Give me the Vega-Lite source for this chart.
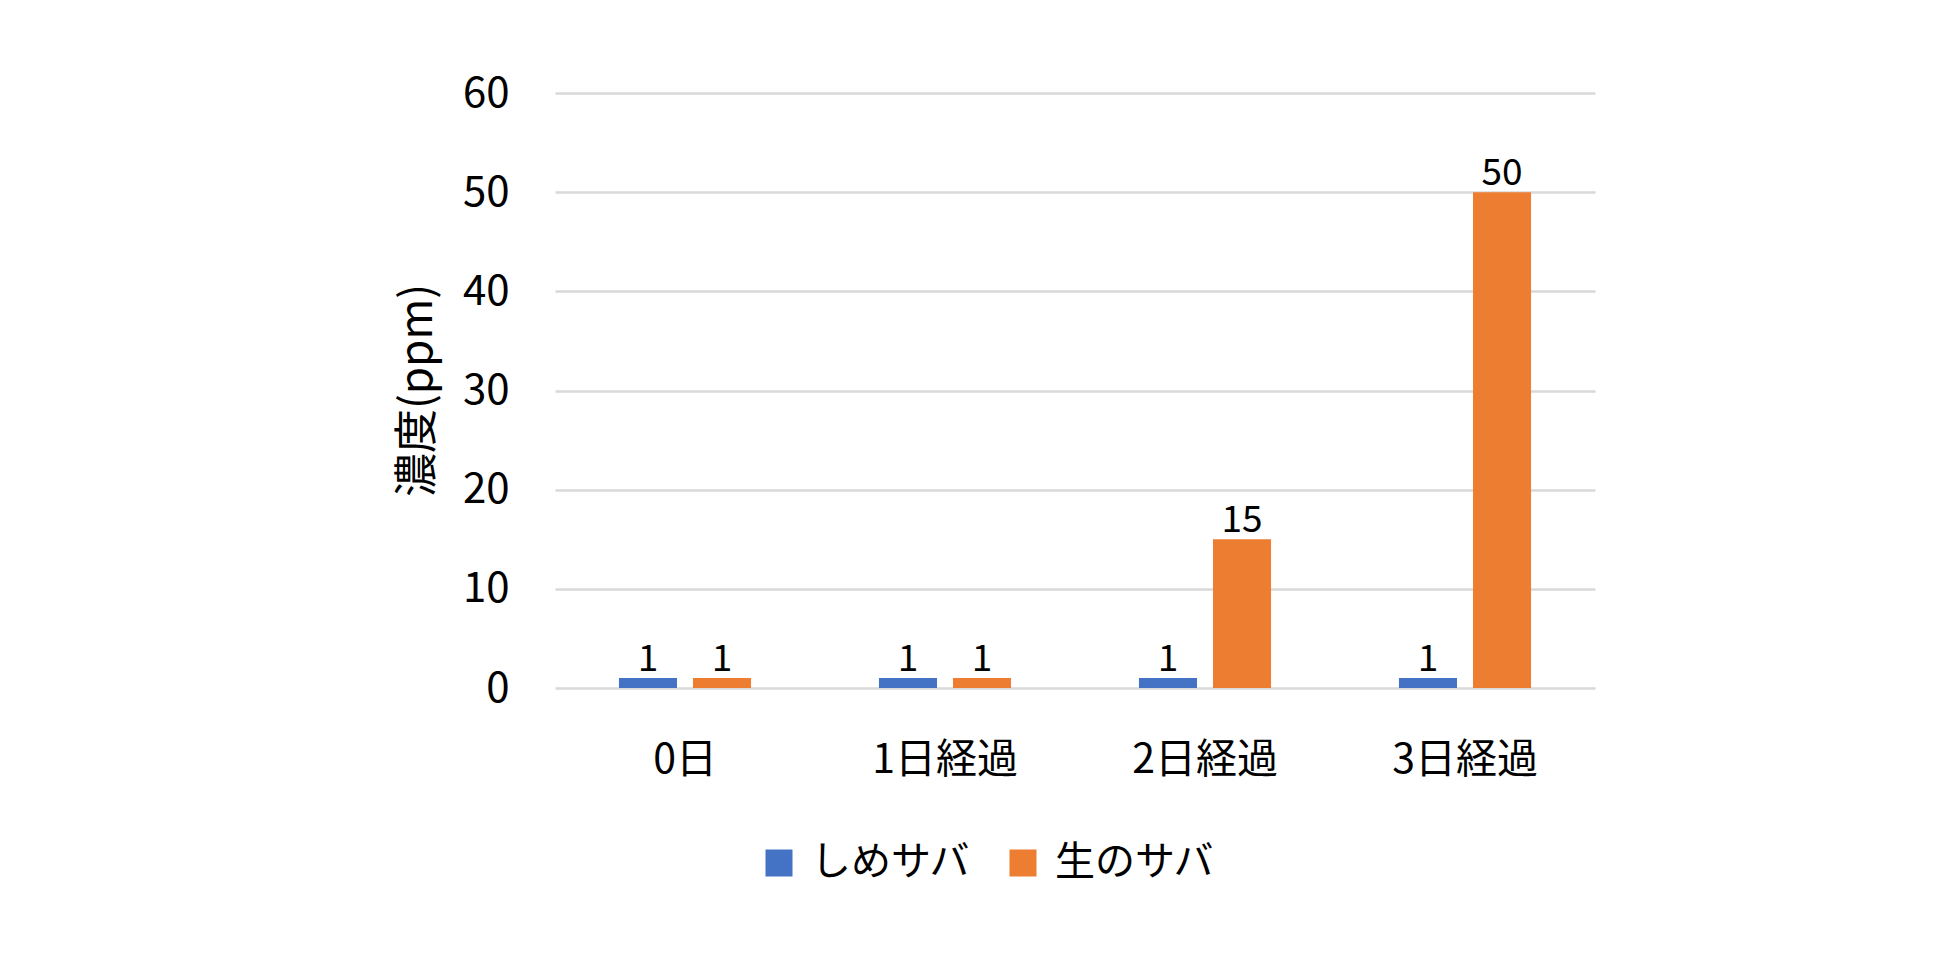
{
  "$schema": "https://vega.github.io/schema/vega-lite/v6.json",
  "width": 1040,
  "height": 595,
  "autosize": {"type": "none"},
  "padding": {"left": 555, "top": 93, "right": 365, "bottom": 277},
  "background": "white",
  "config": {
    "font": "Noto Sans CJK JP",
    "view": {"stroke": null},
    "axis": {"labelColor": "black", "titleColor": "black", "gridColor": "#d9d9d9", "gridWidth": 2.5}
  },
  "data": {
    "values": [
      {"day": "0日", "type": "しめサバ", "value": 1},
      {"day": "0日", "type": "生のサバ", "value": 1},
      {"day": "1日経過", "type": "しめサバ", "value": 1},
      {"day": "1日経過", "type": "生のサバ", "value": 1},
      {"day": "2日経過", "type": "しめサバ", "value": 1},
      {"day": "2日経過", "type": "生のサバ", "value": 15},
      {"day": "3日経過", "type": "しめサバ", "value": 1},
      {"day": "3日経過", "type": "生のサバ", "value": 50}
    ]
  },
  "encoding": {
    "x": {
      "field": "day",
      "type": "nominal",
      "sort": ["0日", "1日経過", "2日経過", "3日経過"],
      "scale": {"paddingInner": 0.492, "paddingOuter": 0.246},
      "axis": {
        "title": null,
        "labelAngle": 0,
        "labelFontSize": 41,
        "labelPadding": 52,
        "domain": false,
        "ticks": false,
        "grid": false
      }
    },
    "xOffset": {
      "field": "type",
      "type": "nominal",
      "sort": ["しめサバ", "生のサバ"],
      "scale": {"paddingInner": 0.216, "paddingOuter": 0}
    },
    "y": {
      "field": "value",
      "type": "quantitative",
      "scale": {"domain": [0, 60], "nice": false},
      "axis": {
        "values": [0, 10, 20, 30, 40, 50, 60],
        "title": "濃度(ppm)",
        "titleFontSize": 44,
        "titleFontWeight": "normal",
        "titleX": -115,
        "titleY": 297,
        "titleBaseline": "bottom",
        "labelFontSize": 42,
        "labelPadding": 46,
        "domain": false,
        "ticks": false
      }
    }
  },
  "layer": [
    {
      "mark": {"type": "bar"},
      "encoding": {
        "color": {
          "field": "type",
          "type": "nominal",
          "sort": ["しめサバ", "生のサバ"],
          "scale": {"domain": ["しめサバ", "生のサバ"], "range": ["#4472C4", "#ED7D31"]},
          "legend": {
            "title": null,
            "orient": "none",
            "direction": "horizontal",
            "legendX": 204,
            "legendY": 750,
            "symbolType": "square",
            "symbolSize": 729,
            "symbolStrokeWidth": 0,
            "symbolOpacity": 1,
            "labelFontSize": 40,
            "labelColor": "black",
            "labelOffset": 12,
            "columnPadding": 32
          }
        }
      }
    },
    {
      "mark": {"type": "text", "baseline": "alphabetic", "dy": -7, "fontSize": 37, "color": "black"},
      "encoding": {
        "text": {"field": "value", "type": "quantitative"}
      }
    }
  ]
}
